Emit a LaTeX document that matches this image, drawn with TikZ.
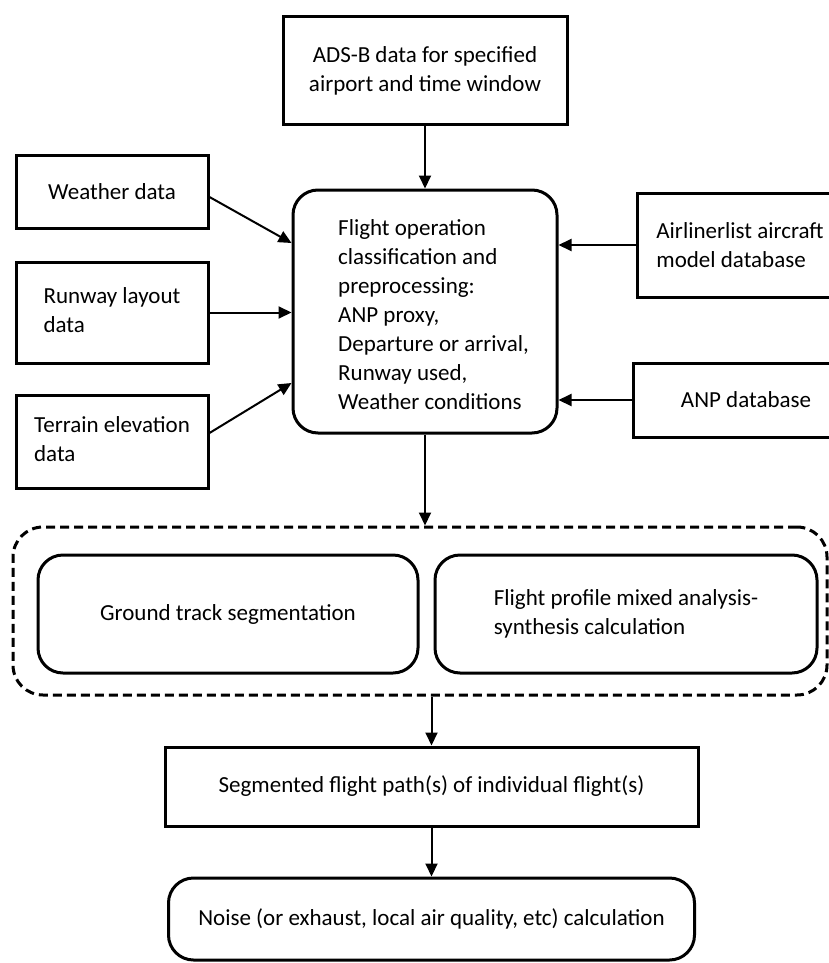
\documentclass[tikz,border=0pt]{standalone}
\usepackage{fontspec}
\setmainfont{Carlito}
\usetikzlibrary{arrows.meta}
\begin{document}
\begin{tikzpicture}[x=1pt,y=-1pt,
  txt/.style={font=\fontsize{23}{29}\selectfont},
  box/.style={draw, line width=3pt, rectangle, inner sep=0pt, align=center, txt},
  rbox/.style={box, rounded corners=25pt},
  arr/.style={line width=2pt, -{Triangle[length=13pt,width=12pt]}},
  dashbox/.style={draw, line width=3pt, dash pattern=on 9pt off 5pt, rounded corners=30pt, inner sep=0pt}
]
\useasboundingbox (0,0) rectangle (829,963);
\clip (0,0) rectangle (829,963);

\node[box, minimum width=284pt, minimum height=108pt] (adsb) at (425,71) {ADS-B data for specified\\airport and time window};
\node[box, minimum width=192pt, minimum height=73pt] (weather) at (112,191.5) {Weather data};
\node[box, minimum width=192pt, minimum height=101pt] (runway) at (112,312.5) {\begin{tabular}{@{}l@{}}Runway layout\\data\end{tabular}};
\node[box, minimum width=192pt, minimum height=93pt] (terrain) at (112,441.5) {\begin{tabular}{@{}l@{}}Terrain elevation\\data\end{tabular}};
\node[rbox, minimum width=264pt, minimum height=243pt] (center) at (425,311.5) {};
\node[txt, anchor=west, align=left, inner sep=0pt] (ctext) at (338,315) {Flight operation\\classification and\\preprocessing:\\ANP proxy,\\Departure or arrival,\\Runway used,\\Weather conditions};
\node[box, minimum width=206pt, minimum height=104pt, align=left] (airliner) at (740,245) {Airlinerlist aircraft\\model database};
\node[box, minimum width=226pt, minimum height=74pt] (anp) at (746,400) {ANP database};

\node[dashbox, minimum width=814pt, minimum height=168pt] (dashed) at (420,611) {};
\node[rbox, minimum width=380pt, minimum height=118pt] (ground) at (228,614) {Ground track segmentation};
\node[rbox, minimum width=382pt, minimum height=118pt, align=left] (profile) at (626,614) {Flight profile mixed analysis-\\synthesis calculation};

\node[box, minimum width=533pt, minimum height=79pt] (segmented) at (431.5,786.5) {Segmented flight path(s) of individual flight(s)};
\node[rbox, minimum width=526pt, minimum height=82pt] (noise) at (431.5,919) {Noise (or exhaust, local air quality, etc) calculation};

\draw[arr] (adsb.south) -- (center.north);
\draw[arr] ([yshift=-5.5pt]weather.east) -- ([yshift=68.5pt]center.west);
\draw[arr] (runway.east) -- (runway.east -| center.west);
\draw[arr] ([yshift=8.5pt]terrain.east) -- ([yshift=-71.5pt]center.west);
\draw[arr] (airliner.west) -- (airliner.west -| center.east);
\draw[arr] (anp.west) -- (anp.west -| center.east);
\draw[arr] (center.south) -- (center.south |- dashed.north);
\draw[arr] (segmented.north |- dashed.south) -- (segmented.north);
\draw[arr] (segmented.south) -- (noise.north);
\end{tikzpicture}
\end{document}
